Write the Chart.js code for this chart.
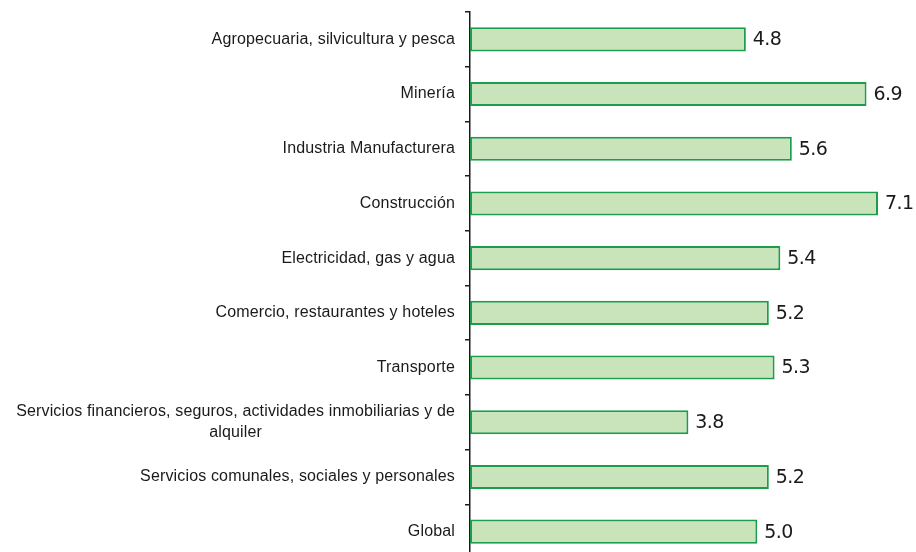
<!DOCTYPE html>
<html>
<head>
<meta charset="utf-8">
<script src="https://cdn.jsdelivr.net/npm/chart.js@4.4.0/dist/chart.umd.min.js"></script>
<style>
  html, body { margin: 0; padding: 0; background: #fff; overflow: hidden; }
  #wrap { width: 916px; height: 560px; }
</style>
</head>
<body>
<div id="wrap"><canvas id="sectorChart" width="916" height="560"></canvas></div>
<script>
// Categories (a wrapped label is an array of lines)
const categories = [
    'Agropecuaria, silvicultura y pesca',
    'Minería',
    'Industria Manufacturera',
    'Construcción',
    'Electricidad, gas y agua',
    'Comercio, restaurantes y hoteles',
    'Transporte',
    ['Servicios financieros, seguros, actividades inmobiliarias y de', 'alquiler'],
    'Servicios comunales, sociales y personales',
    'Global'
];
const growth = [4.8, 6.9, 5.6, 7.1, 5.4, 5.2, 5.3, 3.8, 5.2, 5.0];

// Category labels: right-aligned block, wrapped lines centred within it
const categoryLabels = {
    id: 'categoryLabels',
    afterDraw(chart) {
        const ctx = chart.ctx;
        const yScale = chart.scales.y;
        const right = chart.chartArea.left - 15;
        ctx.save();
        ctx.font = '16px "Liberation Sans", Arial, sans-serif';
        ctx.letterSpacing = '0.15px';
        ctx.fillStyle = '#1a1a1a';
        ctx.textAlign = 'center';
        ctx.textBaseline = 'middle';
        categories.forEach((label, i) => {
            const lines = Array.isArray(label) ? label : [label];
            const maxW = Math.max(...lines.map(l => ctx.measureText(l).width));
            const cx = right - maxW / 2;
            const lh = 21;
            const y0 = yScale.getPixelForTick(i) - (lines.length - 1) * lh / 2;
            lines.forEach((l, j) => ctx.fillText(l, cx, y0 + j * lh));
        });
        ctx.restore();
    }
};

// Value labels at the end of each bar
const valueLabels = {
    id: 'valueLabels',
    afterDatasetsDraw(chart) {
        const ctx = chart.ctx;
        const meta = chart.getDatasetMeta(0);
        ctx.save();
        ctx.font = '19px "DejaVu Sans", sans-serif';
        ctx.letterSpacing = '-0.6px';
        ctx.fillStyle = '#1a1a1a';
        ctx.textAlign = 'left';
        ctx.textBaseline = 'middle';
        meta.data.forEach((bar, i) => {
            ctx.fillText(growth[i].toFixed(1), bar.x + 7, bar.y + 1);
        });
        ctx.restore();
    }
};

new Chart(document.getElementById('sectorChart'), {
    type: 'bar',
    data: {
        labels: categories,
        datasets: [{
            data: growth,
            backgroundColor: '#c9e4bb',
            borderColor: '#1c9c4c',
            borderWidth: 2,
            borderSkipped: false,
            categoryPercentage: 0.8,
            barPercentage: 0.55
        }]
    },
    options: {
        indexAxis: 'y',
        responsive: false,
        animation: false,
        layout: { padding: { top: 12, right: 15, bottom: 1, left: 0 } },
        plugins: {
            legend: { display: false },
            tooltip: { enabled: false }
        },
        scales: {
            x: {
                display: false,
                min: 0,
                max: 7.5
            },
            y: {
                offset: true,
                afterFit(scale) { scale.width = 470; },
                ticks: { display: false },
                border: { display: true, color: '#1a1a1a', width: 1.5 },
                grid: {
                    offset: true,
                    drawOnChartArea: false,
                    drawTicks: true,
                    tickLength: 5,
                    color: '#1a1a1a',
                    lineWidth: 1.5
                }
            }
        }
    },
    plugins: [categoryLabels, valueLabels]
});
</script>
</body>
</html>
